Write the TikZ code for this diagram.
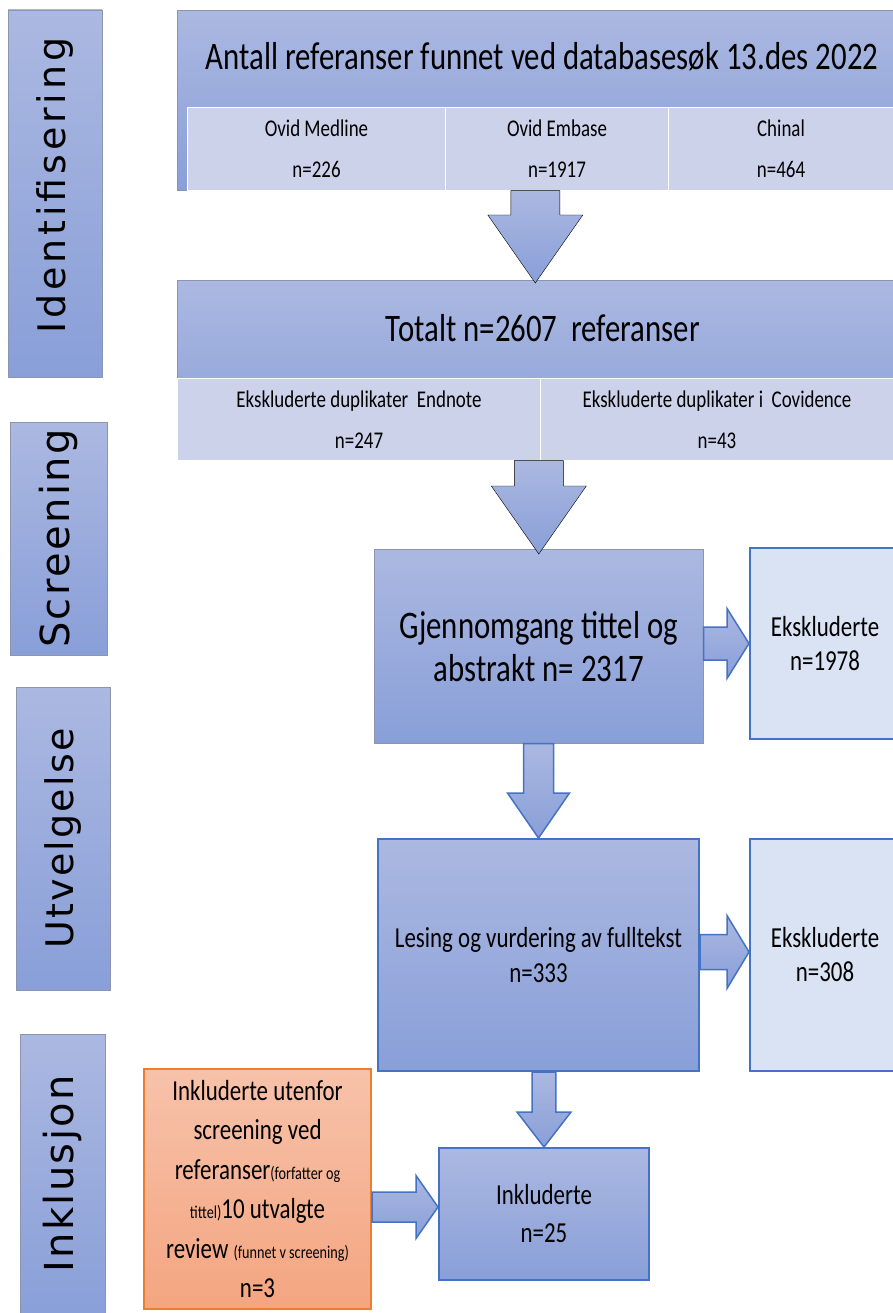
\documentclass[tikz,border=0pt]{standalone}
\usepackage{fontspec}
\setmainfont[FakeStretch=0.79]{Carlito}
\newfontfamily\sidefont[LetterSpace=6]{DejaVu Sans}
\usetikzlibrary{calc}
\definecolor{lysblaa}{RGB}{171,184,225}
\definecolor{moerkblaa}{RGB}{137,159,216}
\definecolor{celle}{RGB}{204,210,234}
\definecolor{eksklfarge}{RGB}{218,227,243}
\definecolor{kant}{RGB}{68,114,196}
\definecolor{skygge}{RGB}{140,148,175}
\definecolor{lysoransje}{RGB}{247,194,170}
\definecolor{oransje}{RGB}{244,165,128}
\definecolor{oransjekant}{RGB}{237,125,49}
% blokkpiler: stil, fra, til, halv skaftbredde, halv hodebredde, hodelengde
\newcommand{\pilned}[6]{%
  \draw[#1] let \p1=(#2), \p2=(#3) in
    (\x2-#4,\y1) -- (\x2+#4,\y1) -- (\x2+#4,\y2+#6) -- (\x2+#5,\y2+#6) -- (\x2,\y2)
    -- (\x2-#5,\y2+#6) -- (\x2-#4,\y2+#6) -- cycle;}
\newcommand{\pilhoyre}[6]{%
  \draw[#1] let \p1=(#2), \p2=(#3) in
    (\x1,\y2+#4) -- (\x2-#6,\y2+#4) -- (\x2-#6,\y2+#5) -- (\x2,\y2)
    -- (\x2-#6,\y2-#5) -- (\x2-#6,\y2-#4) -- (\x1,\y2-#4) -- cycle;}

\begin{document}
\begin{tikzpicture}[x=1pt, y=-1pt, every node/.style={inner sep=0pt, align=center},
  sideboks/.style={draw=skygge, line width=0.6pt, top color=lysblaa, bottom color=moerkblaa},
  sidetekst/.style={rotate=90, font=\sidefont\fontsize{40}{48}\selectfont},
  hovedboks/.style={draw=skygge, line width=0.6pt, top color=lysblaa, bottom color=moerkblaa, anchor=north west},
  celleboks/.style={fill=celle, draw=white, line width=1pt, anchor=north west, font=\fontsize{24}{41}\selectfont},
  eksklboks/.style={fill=eksklfarge, draw=kant, line width=2pt, anchor=north west, font=\fontsize{29}{34}\selectfont},
  pil/.style={top color=lysblaa, bottom color=moerkblaa}]
\useasboundingbox (0,0) rectangle (893,1313);
% faser
\node[sideboks, minimum width=94pt, minimum height=367pt] (identif) at (55,193.5) {};
\node[sidetekst, font=\sidefont\fontsize{38}{46}\selectfont\addfontfeature{LetterSpace=10}] (identiftekst) at ([yshift=8pt]identif) {Identifisering};
\node[sideboks, minimum width=97pt, minimum height=233pt] (screen) at (58.5,538.5) {};
\node[sidetekst] (screentekst) at (screen) {Screening};
\node[sideboks, minimum width=94pt, minimum height=303pt] (utvalg) at (63,838.5) {};
\node[sidetekst, font=\sidefont\fontsize{38}{46}\selectfont] (utvalgtekst) at (utvalg) {Utvelgelse};
\node[sideboks, minimum width=85pt, minimum height=285pt] (inklus) at (62.5,1177) {};
\node[sidetekst] (inklustekst) at ([yshift=3pt]inklus) {Inklusjon};
% databasesok
\node[hovedboks, minimum width=716pt, minimum height=180pt] (sok) at (177,10) {};
\node[font=\fontsize{39}{43}\selectfont] (soktittel) at (542,57) {Antall referanser funnet ved databasesøk 13.des 2022};
\node[celleboks, minimum width=258pt, minimum height=83pt] (medline) at (187,107) {Ovid Medline\\n=226};
\node[celleboks, minimum width=223pt, minimum height=83pt] (embase) at (445,107) {Ovid Embase\\n=1917};
\node[celleboks, minimum width=225pt, minimum height=83pt] (chinal) at (668,107) {Chinal\\n=464};
% totalt
\node[hovedboks, minimum width=716pt, minimum height=180pt] (totalt) at (177,280) {};
\node[font=\fontsize{39}{43}\selectfont] (totalttittel) at (543,328) {Totalt n=2607\ \ referanser};
\node[celleboks, minimum width=363pt, minimum height=82pt] (endnote) at (177,378) {Ekskluderte duplikater\ \ Endnote\\n=247};
\node[celleboks, minimum width=353pt, minimum height=82pt] (covidence) at (540,378) {Ekskluderte duplikater i\ \ Covidence\\n=43};
% screening og utvelgelse
\node[hovedboks, minimum width=329pt, minimum height=194pt, font=\fontsize{39}{43}\selectfont] (gjennomgang) at (374,549) {Gjennomgang tittel og\\abstrakt n= 2317};
\node[eksklboks, minimum width=150pt, minimum height=191pt] (ekskl1) at (749,547) {Ekskluderte\\n=1978};
\node[hovedboks, draw=kant, line width=2pt, minimum width=321pt, minimum height=232pt, font=\fontsize{29}{35}\selectfont] (lesing) at (377,838) {Lesing og vurdering av fulltekst\\n=333};
\node[eksklboks, minimum width=150pt, minimum height=232pt] (ekskl2) at (749,838) {Ekskluderte\\n=308};
% inklusjon
\node[hovedboks, draw=kant, line width=2pt, minimum width=210pt, minimum height=132pt, font=\fontsize{29}{38}\selectfont] (inkl) at (438,1147) {Inkluderte\\n=25};
\node[draw=oransjekant, line width=2pt, top color=lysoransje, bottom color=oransje, anchor=north west,
  minimum width=227pt, minimum height=240pt, font=\fontsize{29}{39.4}\selectfont] (utenfor) at (143,1068)
  {Inkluderte utenfor\\screening ved\\referanser{\fontsize{18}{18}\selectfont(forfatter og}\\{\fontsize{18}{18}\selectfont tittel)}10 utvalgte\\review {\fontsize{18}{18}\selectfont(funnet v screening)}\\n=3};
% piler
\pilned{pil}{sok.south}{[yshift=-3pt]totalt.north}{24.5pt}{47.5pt}{68pt}
\pilned{pil}{totalt.south}{[yshift=-5pt]gjennomgang.north}{24.5pt}{47.5pt}{68pt}
\pilned{pil, draw=kant, line width=1.5pt}{gjennomgang.south}{lesing.north}{15pt}{31pt}{45pt}
\pilned{pil, draw=kant, line width=1.5pt}{lesing.south}{inkl.north}{11.8pt}{27pt}{35pt}
\pilhoyre{pil, draw=kant, line width=1.5pt}{gjennomgang.east}{ekskl1.west}{16.5pt}{35pt}{22pt}
\pilhoyre{pil, draw=kant, line width=1.5pt}{lesing.east}{[yshift=3pt]ekskl2.west}{17.5pt}{36.5pt}{22pt}
\pilhoyre{pil, draw=kant, line width=1.5pt}{utenfor.east}{[yshift=7pt]inkl.west}{15pt}{31.5pt}{22pt}
\end{tikzpicture}
\end{document}
